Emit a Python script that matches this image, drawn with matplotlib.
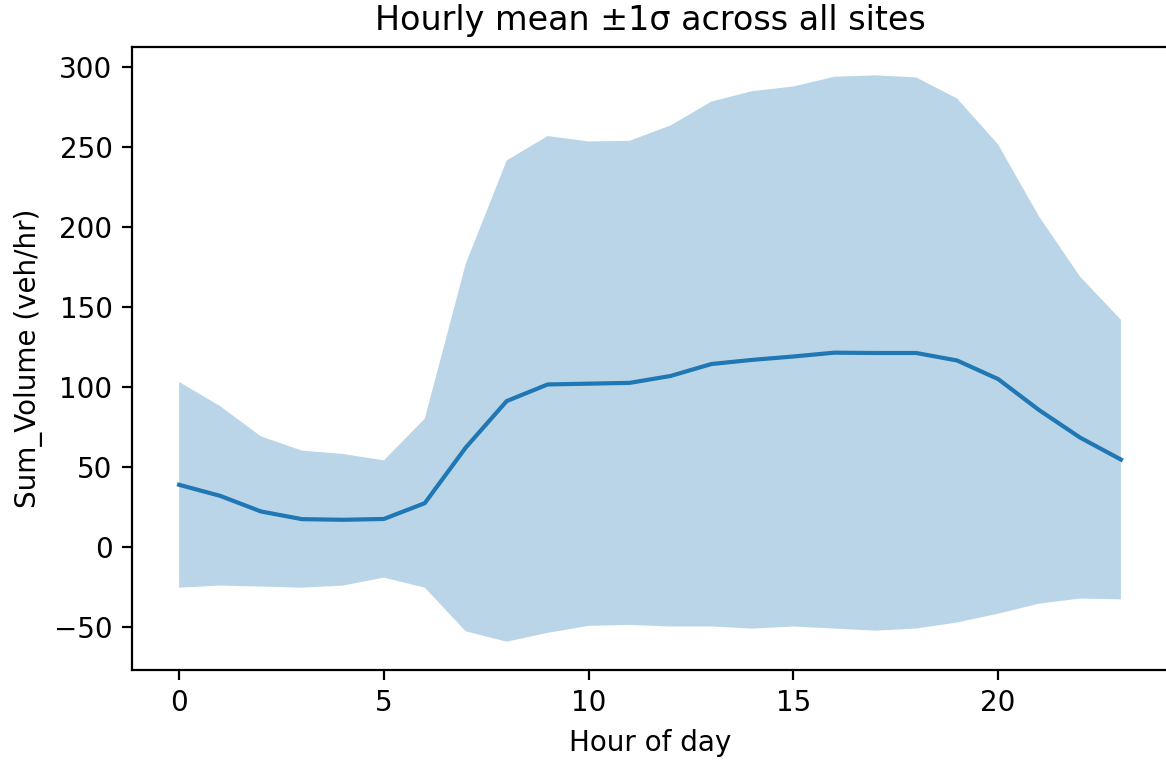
import numpy as np
import matplotlib.pyplot as plt

# Hourly traffic volume, mean and std across all sites
hours = np.arange(24)
mean_vol = [38.7, 31.8, 22.0, 17.2, 16.8, 17.3, 27.2, 62.0, 91.1, 101.5, 102.0, 102.5,
            106.8, 114.3, 116.9, 119.0, 121.4, 121.2, 121.2, 116.5, 104.9, 85.5, 68.3, 54.5]
std_vol = [64.4, 56.2, 47.0, 42.9, 41.2, 36.7, 52.9, 115.0, 150.6, 155.5, 151.6, 151.5,
           156.8, 164.3, 168.2, 169.0, 172.7, 173.8, 172.5, 164.0, 146.9, 121.2, 100.8, 87.5]

mean_vol = np.array(mean_vol)
std_vol = np.array(std_vol)

fig = plt.figure(figsize=(5.83, 3.805), dpi=200)
ax = fig.add_axes([132 / 1166, 91 / 761, 1036 / 1166, 623 / 761])

ax.plot(hours, mean_vol)
ax.fill_between(hours, mean_vol - std_vol, mean_vol + std_vol, alpha=0.3)
ax.set_xlabel('Hour of day')
ax.set_ylabel('Sum_Volume (veh/hr)')
ax.set_title('Hourly mean ±1σ across all sites')

fig.savefig('out.png')
plt.close(fig)
